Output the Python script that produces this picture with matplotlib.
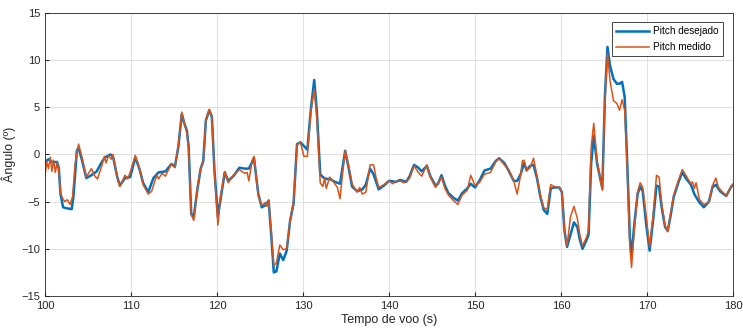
import matplotlib
matplotlib.use("Agg")
import matplotlib.pyplot as plt

plt.rcParams['font.family'] = ['Liberation Sans', 'DejaVu Sans']

# Pitch desejado
t_des = [100.0, 100.4, 100.8, 101.4, 101.6, 101.8, 102.1, 102.5, 103.1, 103.3, 103.7, 103.9,
         104.3, 104.8, 105.4, 106.0, 106.6, 107.0, 107.6, 107.9, 108.4, 108.7, 109.3, 109.9,
         110.5, 111.0, 111.4, 112.0, 112.6, 113.2, 114.0, 114.7, 115.1, 115.5, 115.9, 116.2,
         116.5, 116.7, 117.0, 117.3, 117.7, 118.1, 118.4, 118.7, 119.1, 119.4, 119.7, 120.1,
         120.4, 120.9, 121.3, 121.9, 122.6, 123.2, 123.7, 124.3, 124.8, 125.2, 125.6, 126.0,
         126.3, 126.6, 126.9, 127.3, 127.7, 128.1, 128.5, 128.9, 129.3, 129.7, 130.1, 130.5,
         130.9, 131.3, 131.6, 132.0, 132.3, 132.7, 133.1, 133.7, 134.3, 134.9, 135.3, 135.7,
         136.3, 136.9, 137.3, 137.8, 138.2, 138.8, 139.4, 140.0, 140.8, 141.3, 142.0, 142.4,
         142.9, 143.4, 143.8, 144.4, 144.8, 145.4, 145.7, 146.1, 146.5, 146.9, 147.5, 148.0,
         148.5, 149.1, 149.5, 150.0, 150.5, 151.1, 151.8, 152.4, 152.8, 153.4, 153.9, 154.5,
         154.9, 155.3, 155.7, 156.0, 156.4, 156.8, 157.2, 157.6, 158.0, 158.4, 158.8, 159.2,
         159.8, 160.1, 160.4, 160.7, 161.1, 161.5, 161.9, 162.2, 162.5, 163.0, 163.2, 163.5,
         163.8, 164.2, 164.8, 165.1, 165.4, 165.7, 166.1, 166.5, 166.8, 167.1, 167.4, 167.7,
         168.0, 168.2, 168.5, 168.9, 169.2, 169.5, 169.9, 170.3, 170.7, 171.1, 171.4, 171.7,
         172.1, 172.4, 172.7, 173.1, 173.7, 174.1, 174.5, 175.1, 175.5, 176.1, 176.6, 177.2,
         177.6, 178.0, 178.5, 179.2, 179.8, 180.0]
pitch_des = [-0.8, -0.5, -0.8, -0.8, -1.4, -4.2, -5.6, -5.7, -5.8, -4.5, 0.4, 0.7,
             -0.6, -2.5, -2.2, -1.8, -0.8, -0.3, 0.0, -0.2, -2.4, -3.3, -2.5, -2.4,
             -0.3, -1.6, -3.0, -4.0, -2.5, -1.9, -1.8, -1.0, -1.3, 0.8, 4.3, 3.3,
             2.5, 0.8, -6.3, -6.6, -3.8, -1.5, -0.7, 3.6, 4.7, 4.0, -1.7, -6.6,
             -4.8, -1.9, -2.8, -2.3, -1.4, -1.5, -1.5, -0.4, -4.2, -5.6, -5.4, -4.9,
             -8.5, -12.5, -12.4, -10.5, -11.2, -10.2, -7.0, -5.2, 1.1, 1.3, 0.9, 0.5,
             4.7, 7.9, 4.7, -2.1, -2.4, -2.6, -2.6, -2.9, -3.1, 0.4, -1.4, -3.4,
             -3.9, -3.7, -3.2, -1.5, -2.1, -3.7, -3.3, -2.8, -2.9, -2.7, -2.9, -2.3,
             -1.1, -1.4, -1.8, -1.2, -2.3, -3.3, -3.1, -2.2, -3.3, -4.1, -4.6, -4.9,
             -4.1, -3.6, -3.1, -3.5, -2.8, -1.7, -1.5, -0.7, -0.4, -0.9, -1.7, -2.8,
             -2.8, -2.1, -0.9, -1.7, -1.2, -1.1, -2.5, -4.5, -5.9, -6.3, -3.6, -3.5,
             -3.5, -4.0, -8.1, -9.8, -8.5, -7.2, -7.7, -9.1, -10.0, -9.0, -8.5, -1.0,
             2.0, -1.0, -3.6, 6.1, 11.4, 9.4, 8.0, 7.5, 7.5, 7.7, 6.1, -1.0,
             -8.8, -10.7, -7.6, -4.2, -3.4, -3.9, -7.4, -10.2, -7.0, -3.3, -3.4, -5.6,
             -7.7, -8.1, -6.7, -4.5, -2.8, -1.9, -2.5, -3.2, -4.2, -5.1, -5.6, -5.0,
             -3.5, -3.2, -3.9, -4.4, -3.4, -3.2]

# Pitch medido
t_med = [100.0, 100.2, 100.4, 100.6, 100.8, 101.0, 101.2, 101.4, 101.6, 101.8, 102.0, 102.3,
         102.6, 102.9, 103.2, 103.5, 103.9, 104.3, 104.8, 105.4, 105.8, 106.1, 106.6, 106.9,
         107.1, 107.4, 107.7, 107.9, 108.4, 108.7, 109.3, 109.6, 109.9, 110.5, 111.0, 111.4,
         112.0, 112.4, 112.6, 113.0, 113.2, 113.6, 114.0, 114.2, 114.7, 115.1, 115.5, 115.9,
         116.2, 116.5, 116.7, 117.0, 117.3, 117.7, 118.1, 118.4, 118.7, 119.1, 119.4, 119.7,
         120.1, 120.4, 120.9, 121.3, 121.9, 122.6, 123.2, 123.5, 123.7, 124.1, 124.3, 124.8,
         125.2, 125.6, 125.8, 126.0, 126.3, 126.6, 126.9, 127.3, 127.7, 128.1, 128.5, 128.9,
         129.3, 129.7, 130.1, 130.5, 130.9, 131.3, 131.6, 132.0, 132.3, 132.5, 132.7, 133.1,
         133.7, 134.0, 134.3, 134.6, 134.9, 135.3, 135.7, 136.0, 136.3, 136.6, 136.9, 137.3,
         137.8, 138.2, 138.5, 138.8, 139.4, 140.0, 140.4, 140.8, 141.3, 141.7, 142.0, 142.4,
         142.9, 143.4, 143.8, 144.4, 144.8, 145.4, 145.7, 146.1, 146.5, 146.9, 147.5, 148.0,
         148.5, 149.1, 149.5, 150.0, 150.5, 151.1, 151.8, 152.4, 152.8, 153.4, 153.9, 154.5,
         154.9, 155.3, 155.5, 155.7, 156.0, 156.4, 156.8, 157.2, 157.6, 158.0, 158.4, 158.8,
         159.2, 159.8, 160.1, 160.4, 160.7, 161.1, 161.5, 161.9, 162.2, 162.5, 163.0, 163.2,
         163.5, 163.8, 164.2, 164.8, 165.1, 165.4, 165.7, 166.1, 166.5, 166.8, 167.1, 167.4,
         167.7, 168.0, 168.2, 168.5, 168.9, 169.2, 169.5, 169.9, 170.3, 170.7, 171.1, 171.4,
         171.7, 172.1, 172.4, 172.7, 173.1, 173.7, 174.1, 174.5, 175.1, 175.3, 175.5, 175.7,
         176.1, 176.6, 177.2, 177.6, 178.0, 178.3, 178.5, 179.2, 179.8, 180.0]
pitch_med = [-2.2, -0.8, -1.5, -0.3, -1.8, -0.6, -1.9, -0.9, -1.7, -4.0, -4.6, -5.0,
             -4.8, -5.3, -4.5, -1.0, 1.1, -0.3, -2.4, -1.5, -2.3, -2.6, -1.2, -0.2,
             -0.9, -0.1, -0.5, 0.0, -2.4, -3.4, -2.2, -2.6, -1.9, -0.1, -1.5, -3.2,
             -4.2, -3.9, -3.3, -2.2, -2.6, -2.0, -2.3, -1.9, -1.0, -1.4, 0.9, 4.5,
             3.3, 2.3, 0.5, -6.4, -7.0, -3.6, -1.5, -0.8, 3.7, 4.8, 3.9, -1.9,
             -7.5, -4.5, -1.8, -3.0, -2.2, -1.6, -2.0, -1.9, -2.8, -0.6, -0.2, -4.4,
             -5.4, -5.1, -5.5, -4.8, -8.2, -11.8, -11.5, -9.6, -10.1, -10.0, -7.0, -5.0,
             1.0, 1.3, -0.2, -0.2, 4.5, 6.9, 4.0, -3.0, -3.4, -2.5, -3.6, -2.4,
             -3.1, -3.5, -4.7, -2.0, 0.4, -1.2, -3.1, -3.6, -4.0, -3.5, -4.2, -4.0,
             -1.1, -1.1, -2.5, -3.5, -3.2, -2.8, -3.1, -2.9, -2.8, -3.0, -2.9, -2.5,
             -1.2, -1.9, -2.3, -1.1, -2.4, -3.5, -3.1, -2.4, -3.6, -4.3, -4.9, -5.3,
             -4.3, -3.8, -2.2, -3.3, -3.0, -2.1, -1.9, -0.8, -0.4, -1.1, -1.6, -2.8,
             -4.2, -2.2, -0.7, -0.6, -1.7, -1.4, -0.4, -2.3, -4.3, -5.7, -5.8, -3.2,
             -3.4, -3.5, -4.0, -8.0, -9.7, -6.6, -5.5, -6.8, -8.6, -9.7, -8.7, -8.0,
             0.7, 3.3, -0.7, -3.8, 5.5, 10.7, 7.8, 5.7, 5.4, 4.7, 5.8, 4.7,
             -1.5, -9.8, -12.0, -8.2, -4.0, -3.0, -3.5, -6.5, -9.8, -6.5, -2.2, -2.4,
             -5.2, -7.6, -8.2, -6.5, -4.3, -2.6, -1.6, -2.2, -3.1, -2.9, -3.6, -3.0,
             -4.8, -5.3, -5.1, -3.3, -2.5, -3.5, -3.7, -4.4, -3.4, -3.2]

fig = plt.figure(figsize=(7.43, 3.34), dpi=100)
ax = fig.add_axes([0.0606, 0.114, 0.926, 0.847])

ax.plot(t_des, pitch_des, color='#0072BD', linewidth=1.8, label='Pitch desejado')
ax.plot(t_med, pitch_med, color='#D95319', linewidth=1.1, label='Pitch medido')

ax.set_xlim(100, 180)
ax.set_ylim(-15, 15)
ax.set_xticks(range(100, 181, 10))
ax.set_yticks(range(-15, 16, 5))
ax.grid(True, color='#e0e0e0', linewidth=0.7)
ax.set_axisbelow(True)
ax.tick_params(direction='in', labelsize=8, colors='#262626', length=3)
for s in ax.spines.values():
    s.set_color('#262626')
    s.set_linewidth(0.6)

ax.set_xlabel('Tempo de voo (s)', fontsize=9, color='#262626', labelpad=2)
ax.set_ylabel('Ângulo (º)', fontsize=9, color='#262626', labelpad=4)

leg = ax.legend(loc='upper right', fontsize=7.2, frameon=True, fancybox=False,
                edgecolor='#262626', framealpha=1, borderpad=0.4, handlelength=3.3,
                handletextpad=0.4, labelspacing=0.6, borderaxespad=0,
                bbox_to_anchor=(0.985, 0.968))
leg.get_frame().set_linewidth(0.6)

plt.savefig('out.png', dpi=100)
